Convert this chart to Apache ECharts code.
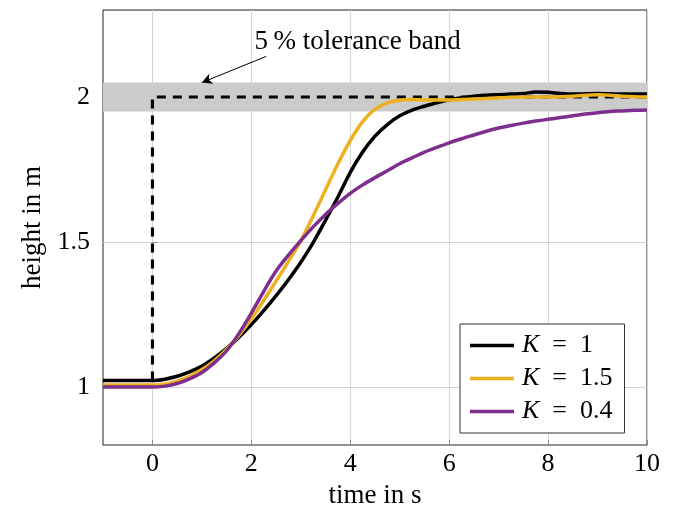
<!DOCTYPE html>
<html>
<head>
<meta charset="utf-8">
<script src="https://cdn.jsdelivr.net/npm/echarts@6/dist/echarts.min.js"></script>
<style>html,body{margin:0;padding:0;background:#fff}#c{width:682px;height:514px}</style>
</head>
<body>
<div id="c"></div>
<script>
// time from -1 to 10 in steps of 0.25
const time = [-1, -0.75, -0.5, -0.25, 0, 0.25, 0.5, 0.75, 1, 1.25, 1.5, 1.75, 2, 2.25, 2.5, 2.75, 3, 3.25, 3.5, 3.75, 4, 4.25, 4.5, 4.75, 5, 5.25, 5.5, 5.75, 6, 6.25, 6.5, 6.75, 7, 7.25, 7.5, 7.75, 8, 8.25, 8.5, 8.75, 9, 9.25, 9.5, 9.75, 10];
const k1  = [1.022, 1.022, 1.022, 1.022, 1.022, 1.027, 1.037, 1.052, 1.072, 1.1, 1.133, 1.172, 1.215, 1.263, 1.315, 1.37, 1.43, 1.498, 1.575, 1.655, 1.74, 1.81, 1.865, 1.905, 1.935, 1.955, 1.968, 1.98, 1.99, 1.997, 2.003, 2.006, 2.008, 2.01, 2.012, 2.017, 2.016, 2.012, 2.01, 2.011, 2.012, 2.011, 2.01, 2.01, 2.01];
const k15 = [1.007, 1.007, 1.007, 1.007, 1.007, 1.01, 1.02, 1.037, 1.06, 1.09, 1.13, 1.178, 1.235, 1.298, 1.365, 1.433, 1.505, 1.59, 1.68, 1.77, 1.85, 1.915, 1.958, 1.98, 1.989, 1.991, 1.99, 1.99, 1.99, 1.991, 1.993, 1.995, 1.997, 1.999, 2.0, 2.0, 2.0, 2.001, 2.003, 2.006, 2.008, 2.006, 2.003, 2.001, 2.0];
const k04 = [1.0, 1.0, 1.0, 1.0, 1.0, 1.003, 1.012, 1.028, 1.05, 1.083, 1.125, 1.185, 1.255, 1.33, 1.40, 1.455, 1.505, 1.552, 1.595, 1.633, 1.668, 1.697, 1.722, 1.746, 1.77, 1.79, 1.81, 1.826, 1.842, 1.856, 1.869, 1.882, 1.893, 1.902, 1.91, 1.917, 1.923, 1.929, 1.935, 1.941, 1.946, 1.95, 1.952, 1.954, 1.955];
const refTime  = [0, 0, 10];
const refValue = [1.022, 2, 2];
const band = [1.95, 2.05];
const arrowFrom = [2.3, 2.14];
const arrowTo = [1.0, 2.05];
const notePos = [4.15, 2.19];
const noteText = '5\u2009% tolerance band';
const xTicks = [0, 2, 4, 6, 8, 10];
const yTicks = [1, 1.5, 2];
const names = ['K = 1', 'K = 1.5', 'K = 0.4'];
const colors = ['#000000', '#EDB120', '#7E2F8E'];

const FONT = '"Liberation Serif", "DejaVu Serif", serif';
const FS_TICK = 26;
const FS_NAME = 27;
const FS_LEG = 26;
const pairs = (xs, ys) => xs.map((x, i) => [x, ys[i]]);

const chart = echarts.init(document.getElementById('c'), null, {renderer: 'canvas'});
const curve = (name, vals, color) => ({
  name, type: 'line', data: pairs(time, vals), smooth: 0.3, showSymbol: false, symbol: 'none',
  lineStyle: {color, width: 3.5}, itemStyle: {color}, z: 5
});
chart.setOption({
  animation: false,
  backgroundColor: '#fff',
  grid: {left: 103, right: 35, top: 10, bottom: 67, show: true, borderColor: '#222', borderWidth: 1, backgroundColor: 'transparent'},
  xAxis: {
    type: 'value', min: -1, max: 10,
    name: 'time in s', nameLocation: 'middle', nameGap: 37,
    nameTextStyle: {fontFamily: FONT, fontSize: FS_NAME, color: '#000'},
    axisLine: {show: false},
    axisTick: {show: true, inside: true, length: 5, lineStyle: {color: '#888'}, customValues: xTicks},
    axisLabel: {fontFamily: FONT, fontSize: FS_TICK, color: '#000', margin: 6, customValues: xTicks},
    splitLine: {show: true, lineStyle: {color: '#d4d4d4', width: 1}}
  },
  yAxis: {
    type: 'value', min: 0.8, max: 2.3,
    name: 'height in m', nameLocation: 'middle', nameGap: 56,
    nameTextStyle: {fontFamily: FONT, fontSize: FS_NAME, color: '#000'},
    axisLine: {show: false},
    axisTick: {show: true, inside: true, length: 5, lineStyle: {color: '#888'}, customValues: yTicks},
    axisLabel: {fontFamily: FONT, fontSize: FS_TICK, color: '#000', margin: 13, customValues: yTicks,
      formatter: v => String(v)},
    splitLine: {show: true, lineStyle: {color: '#d4d4d4', width: 1}}
  },
  legend: {
    data: names.map(n => ({name: n})),
    orient: 'vertical', left: 460, top: 324,
    padding: [8, 12, 8, 10],
    borderColor: '#333', borderWidth: 1, backgroundColor: '#fff',
    icon: 'rect', itemWidth: 44, itemHeight: 3.5, itemGap: 6,
    formatter: n => n.replace('K', '{i|K}').replace(' = ', '\u2002=\u2002'),
    textStyle: {fontFamily: FONT, fontSize: FS_LEG, color: '#000', lineHeight: 27, padding: [0, 0, 0, 3],
      rich: {i: {fontFamily: FONT, fontSize: FS_LEG, fontStyle: 'italic', color: '#000'}}}
  },
  series: [
    {
      name: 'ref', type: 'line', data: pairs(refTime, refValue), showSymbol: false, symbol: 'none',
      lineStyle: {color: '#000', width: 3.2, type: [9, 7]}, z: 3,
      markArea: {silent: true, itemStyle: {color: '#cccccc'},
        data: [[{xAxis: -1, yAxis: band[0]}, {xAxis: 10, yAxis: band[1]}]]},
      markLine: {silent: true, symbol: ['none', 'arrow'], symbolSize: [8, 10],
        lineStyle: {color: '#000', width: 1, type: 'solid'}, label: {show: false},
        data: [[{coord: arrowFrom}, {coord: arrowTo}]]},
      markPoint: {silent: true, symbol: 'circle', symbolSize: 0,
        label: {show: true, position: 'inside', formatter: noteText, fontFamily: FONT, fontSize: FS_NAME, color: '#000'},
        data: [{coord: notePos}]}
    },
    curve(names[0], k1, colors[0]),
    curve(names[1], k15, colors[1]),
    curve(names[2], k04, colors[2])
  ]
});
</script>
</body>
</html>
